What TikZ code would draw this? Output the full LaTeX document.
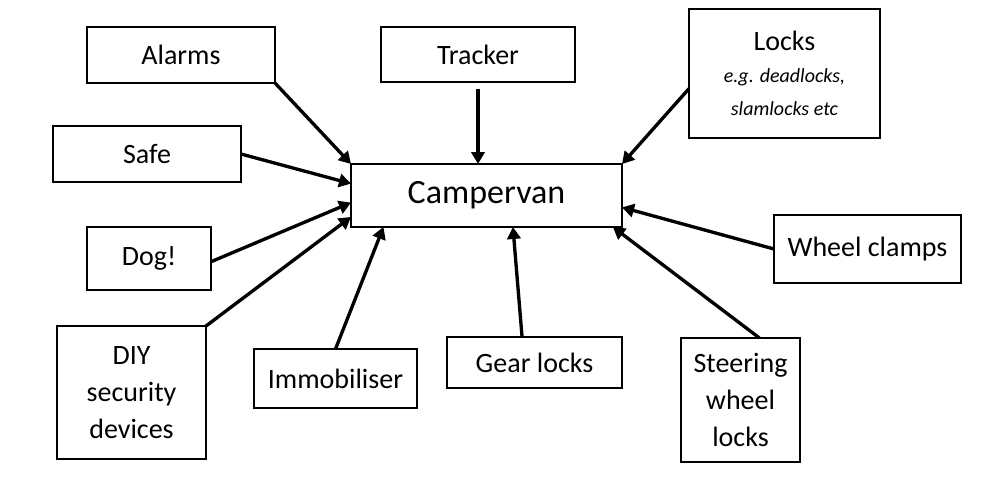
\documentclass[tikz,border=0pt]{standalone}
\usepackage{fontspec}
\setmainfont{Carlito}
\usetikzlibrary{arrows.meta}
\tikzset{
  item/.style={draw=black,line width=1.1pt,fill=white,inner sep=0pt,outer sep=0pt,align=center,font=\fontsize{21}{27.75}\selectfont},
  hub/.style={item,font=\fontsize{25.5}{30}\selectfont},
  arr/.style={-{Triangle[length=9pt,width=10pt]},line width=2.5pt}
}
\begin{document}
\begin{tikzpicture}[x=0.75pt,y=-0.75pt]
\path[use as bounding box] (0,0) rectangle (993,478);
% centre
\node[hub,minimum width=203.25pt,minimum height=47.25pt] (van) at (486.5,195.5) {Campervan};
% top row
\node[item,minimum width=141pt,minimum height=42pt] (alarms) at (181,55) {Alarms};
\node[item,minimum width=145.5pt,minimum height=41.25pt] (tracker) at (478,54.5) {Tracker};
\node[item,minimum width=143.25pt,minimum height=96.75pt] (locks) at (784.5,73.5) {Locks\\[-4pt]{\fontsize{15}{22}\selectfont\itshape e.g. deadlocks,}\\[-3pt]{\fontsize{15}{22}\selectfont\itshape slamlocks etc}};
% left side
\node[item,minimum width=141pt,minimum height=42pt] (safe) at (147,154) {Safe};
\node[item,minimum width=93pt,minimum height=47.25pt] (dog) at (149,258.5) {Dog!};
\node[item,minimum width=111.75pt,minimum height=99.75pt] (diy) at (131.5,392.5) {DIY\\security\\devices};
% bottom row
\node[item,minimum width=122.25pt,minimum height=44.25pt] (immob) at (335.5,378.5) {Immobiliser};
\node[item,minimum width=131.25pt,minimum height=38.25pt] (gear) at (534.5,362.5) {Gear locks};
\node[item,minimum width=89.25pt,minimum height=93pt] (steer) at (740.5,400) {Steering\\wheel\\locks};
% right side
\node[item,minimum width=140.25pt,minimum height=51pt] (wheel) at (867.5,249) {Wheel clamps};
% arrows into the centre
\draw[arr] (alarms.south east) -- (van.north west);
\draw[arr,shorten <=5pt] (tracker.south) -- (tracker.south |- van.north);
\draw[arr] (locks.189) -- (van.north east);
\draw[arr] (safe.east) -- (van.175);
\draw[arr] (dog.357) -- (van.183);
\draw[arr] (diy.north east) -- (van.189);
\draw[arr] (immob.north) -- (van.197);
\draw[arr] (gear.116) -- (van.310);
\draw[arr] (steer.73) -- (van.346);
\draw[arr] (wheel.west) -- (van.355);
\end{tikzpicture}
\end{document}
